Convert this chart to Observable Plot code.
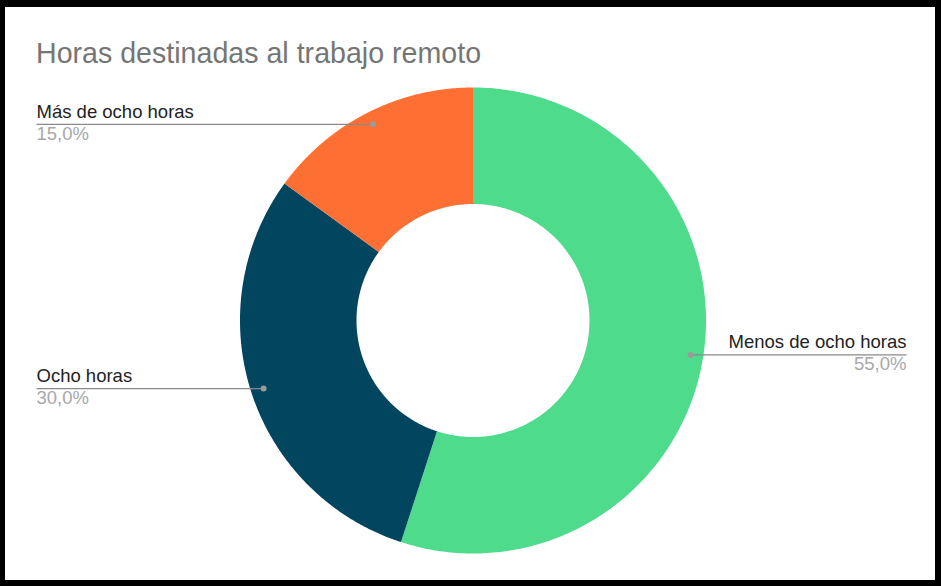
<!DOCTYPE html>
<html>
<head>
<meta charset="utf-8">
<script src="https://cdn.jsdelivr.net/npm/d3@7"></script>
<script src="https://cdn.jsdelivr.net/npm/@observablehq/plot@0.6"></script>
<style>
  html, body { margin: 0; padding: 0; background: #fff; }
  body { position: relative; width: 941px; height: 586px; overflow: hidden; font-family: "Liberation Sans", Arial, sans-serif; }
  #frame { position: absolute; left: 0; top: 0; width: 941px; height: 586px; box-sizing: border-box;
           border-style: solid; border-color: #000; border-width: 7px 6px 6px 5px; background: #fff; }
  #title { position: absolute; left: 36px; top: 39px; font-size: 28.6px; line-height: 28.6px; color: #757575; white-space: nowrap; }
  #chart { position: absolute; left: 5px; top: 80px; }
</style>
</head>
<body>
<div id="frame"></div>
<div id="title">Horas destinadas al trabajo remoto</div>
<div id="chart"></div>
<script>
// ---- data ----
const categories = ["Menos de ocho horas", "Ocho horas", "Más de ocho horas"];
const values = [55, 30, 15];
const percentLabels = ["55,0%", "30,0%", "15,0%"];
const colors = ["#4fdb8c", "#01455f", "#fe6f33"];

// ---- layout ----
const W = 929, H = 500;
const cx = 467.5, cy = 240, R = 233;
const innerRatio = 0.5;
const dotRatio = 0.945;
const leftLabelPx = 31, rightLabelPx = 901;
const ux = px => (px - cx) / R; // pixel -> scale unit

const pie = d3.pie().sort(null).value(d => d.value).startAngle(0).endAngle(2 * Math.PI);
const table = categories.map((c, i) => ({cat: c, value: values[i], pct: percentLabels[i]}));
const arcs = pie(table);

// slice outlines (outer arc then inner arc back)
const poly = [];
for (const a of arcs) {
  const n = 240;
  for (let k = 0; k <= n; k++) {
    const t = a.startAngle + (a.endAngle - a.startAngle) * k / n;
    poly.push({cat: a.data.cat, x: Math.sin(t), y: Math.cos(t)});
  }
  for (let k = n; k >= 0; k--) {
    const t = a.startAngle + (a.endAngle - a.startAngle) * k / n;
    poly.push({cat: a.data.cat, x: innerRatio * Math.sin(t), y: innerRatio * Math.cos(t)});
  }
}

// leader lines and labels
const labels = arcs.map(a => {
  const m = (a.startAngle + a.endAngle) / 2;
  const x = dotRatio * Math.sin(m), y = dotRatio * Math.cos(m);
  const right = x > 0;
  return {cat: a.data.cat, pct: a.data.pct, x, y, lx: right ? ux(rightLabelPx) : ux(leftLabelPx), anchor: right ? "end" : "start"};
});
const leftL = labels.filter(d => d.anchor === "start");
const rightL = labels.filter(d => d.anchor === "end");

const font = "'Liberation Sans', Arial, sans-serif";
const fs = 18.5;
const chart = Plot.plot({
  width: W, height: H,
  style: {background: "transparent", fontFamily: font},
  x: {domain: [-1, 1], range: [cx - R, cx + R], axis: null},
  y: {domain: [-1, 1], range: [cy + R, cy - R], axis: null},
  color: {domain: categories, range: colors},
  marks: [
    Plot.line(poly, {x: "x", y: "y", z: "cat", fill: "cat", stroke: "none", curve: "linear"}),
    Plot.link(labels, {x1: "lx", y1: "y", x2: "x", y2: "y", stroke: "#8a8a8a", strokeWidth: 1.3}),
    Plot.dot(labels, {x: "x", y: "y", r: 3, fill: "#9a9a9a", stroke: "none"}),
    Plot.text(leftL, {x: "lx", y: "y", text: "cat", textAnchor: "start", lineAnchor: "middle", dy: -12.5, fontSize: fs, fill: "#222"}),
    Plot.text(leftL, {x: "lx", y: "y", text: "pct", textAnchor: "start", lineAnchor: "middle", dy: 9.5, fontSize: fs, fill: "#a8a8a8"}),
    Plot.text(rightL, {x: "lx", y: "y", text: "cat", textAnchor: "end", lineAnchor: "middle", dy: -12.5, fontSize: fs, fill: "#222"}),
    Plot.text(rightL, {x: "lx", y: "y", text: "pct", textAnchor: "end", lineAnchor: "middle", dy: 9.5, fontSize: fs, fill: "#a8a8a8"})
  ]
});
document.getElementById("chart").appendChild(chart);
</script>
</body>
</html>
